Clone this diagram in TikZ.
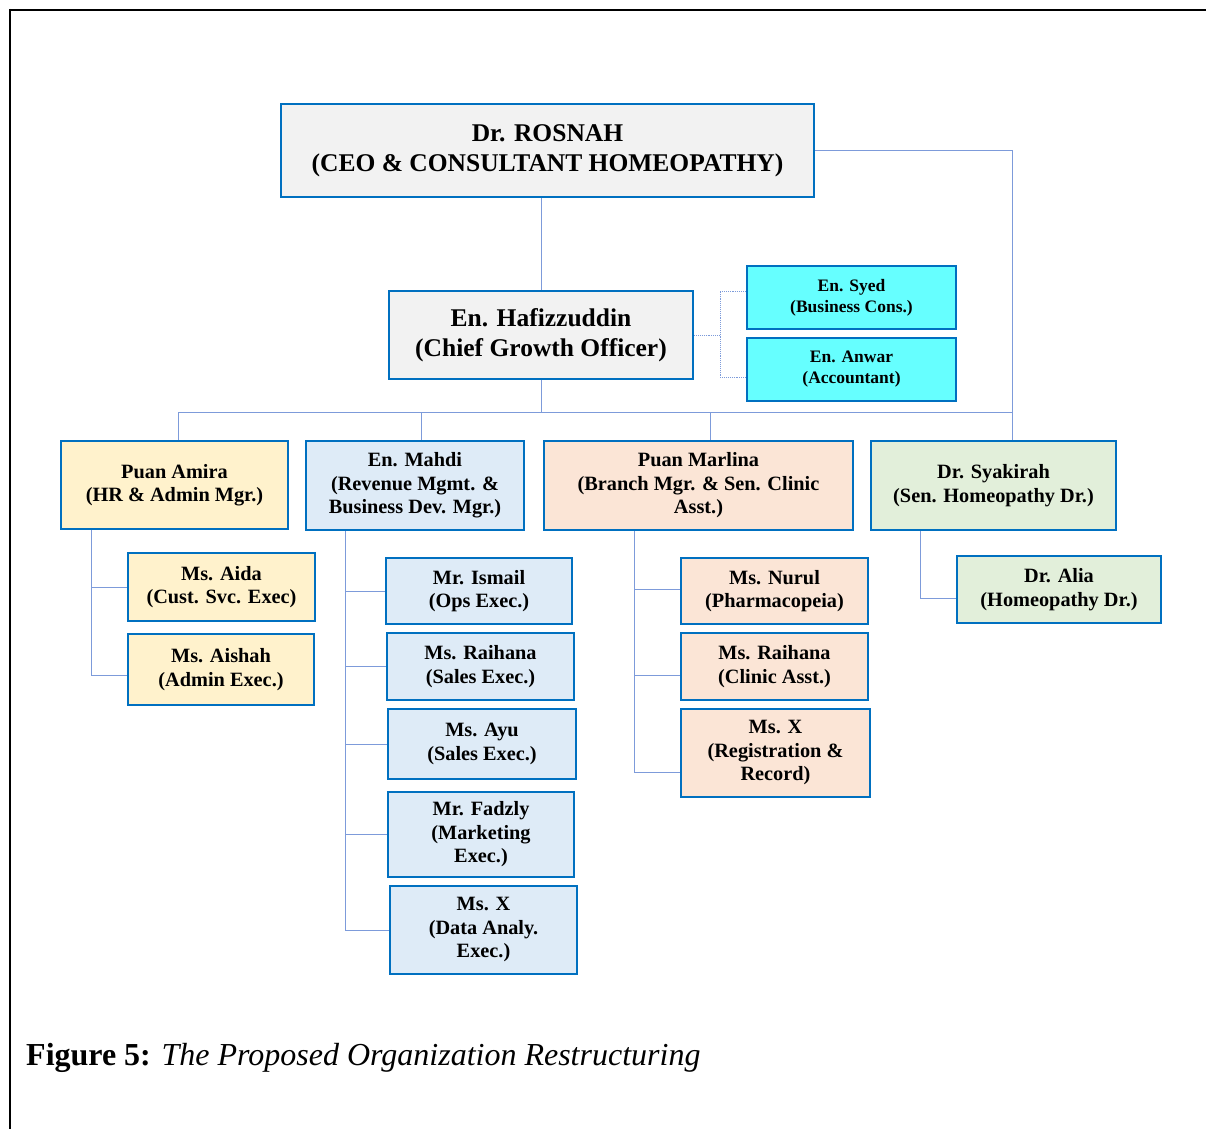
\documentclass[tikz,border=0pt]{standalone}
\usepackage{fontspec}
\setmainfont{Liberation Serif}
\begin{document}
\definecolor{edge}{RGB}{0,112,192}
\definecolor{wire}{RGB}{125,155,218}
\definecolor{greyfill}{RGB}{242,242,242}
\definecolor{cyanfill}{RGB}{102,255,255}
\definecolor{yellowfill}{RGB}{255,242,204}
\definecolor{bluefill}{RGB}{222,235,247}
\definecolor{peachfill}{RGB}{251,229,214}
\definecolor{greenfill}{RGB}{226,239,218}
\begin{tikzpicture}[x=1pt,y=-1pt,
  box/.style={draw=edge, line width=2.5pt, align=center, inner sep=2pt},
  bigtext/.style={font=\fontsize{25.5}{30}\selectfont\bfseries},
  midtext/.style={font=\fontsize{20.3}{23.5}\selectfont\bfseries},
  smalltext/.style={font=\fontsize{17.5}{21}\selectfont\bfseries},
  link/.style={draw=wire, line width=0.9pt},
  dotlink/.style={draw=wire, line width=0.9pt, densely dotted}]
\useasboundingbox (0,0) rectangle (1206,1129);

% page frame
\draw[line width=2pt] (9,10) -- (1206,10);
\draw[line width=1.6pt] (10,9) -- (10,1129);

% top levels
\node[box, bigtext, fill=greyfill, minimum width=533, minimum height=93] (ceo) at (547.5,150.5)
  {Dr. ROSNAH\\(CEO \& CONSULTANT HOMEOPATHY)};
\node[box, bigtext, fill=greyfill, minimum width=304, minimum height=88] (cgo) at (541,335)
  {En. Hafizzuddin\\(Chief Growth Officer)};
\node[box, smalltext, fill=cyanfill, minimum width=209, minimum height=63] (syed) at (851.5,297.5)
  {En. Syed\\(Business Cons.)};
\node[box, smalltext, fill=cyanfill, minimum width=209, minimum height=63] (anwar) at (851.5,369.5)
  {En. Anwar\\(Accountant)};

% managers
\node[box, midtext, fill=yellowfill, minimum width=227, minimum height=88] (amira) at (174.5,485)
  {Puan Amira\\(HR \& Admin Mgr.)};
\node[box, midtext, fill=bluefill, minimum width=218, minimum height=89] (mahdi) at (415,485.5)
  {En. Mahdi\\(Revenue Mgmt. \&\\Business Dev. Mgr.)};
\node[box, midtext, fill=peachfill, minimum width=309, minimum height=89] (marlina) at (698.5,485.5)
  {Puan Marlina\\(Branch Mgr. \& Sen. Clinic\\Asst.)};
\node[box, midtext, fill=greenfill, minimum width=245, minimum height=89] (syakirah) at (993.5,485.5)
  {Dr. Syakirah\\(Sen. Homeopathy Dr.)};

% staff under Puan Amira
\node[box, midtext, fill=yellowfill, minimum width=187, minimum height=68] (aida) at (221.5,587)
  {Ms. Aida\\(Cust. Svc. Exec)};
\node[box, midtext, fill=yellowfill, minimum width=186, minimum height=71] (aishah) at (221,669.5)
  {Ms. Aishah\\(Admin Exec.)};

% staff under En. Mahdi
\node[box, midtext, fill=bluefill, minimum width=186, minimum height=66] (ismail) at (479,591)
  {Mr. Ismail\\(Ops Exec.)};
\node[box, midtext, fill=bluefill, minimum width=187, minimum height=67] (raihanaS) at (480.5,666.5)
  {Ms. Raihana\\(Sales Exec.)};
\node[box, midtext, fill=bluefill, minimum width=188, minimum height=70] (ayu) at (482,744)
  {Ms. Ayu\\(Sales Exec.)};
\node[box, midtext, fill=bluefill, minimum width=186, minimum height=85] (fadzly) at (481,834.5)
  {Mr. Fadzly\\(Marketing\\Exec.)};
\node[box, midtext, fill=bluefill, minimum width=187, minimum height=88] (msxdata) at (483.5,930)
  {Ms. X\\(Data Analy.\\Exec.)};

% staff under Puan Marlina
\node[box, midtext, fill=peachfill, minimum width=187, minimum height=66] (nurul) at (774.5,591)
  {Ms. Nurul\\(Pharmacopeia)};
\node[box, midtext, fill=peachfill, minimum width=187, minimum height=67] (raihanaC) at (774.5,666.5)
  {Ms. Raihana\\(Clinic Asst.)};
\node[box, midtext, fill=peachfill, minimum width=189, minimum height=88] (msxreg) at (775.5,753)
  {Ms. X\\(Registration \&\\Record)};

% staff under Dr. Syakirah
\node[box, midtext, fill=greenfill, minimum width=204, minimum height=67] (alia) at (1059,589.5)
  {Dr. Alia\\(Homeopathy Dr.)};

% reporting lines from the top
\coordinate (dA) at (178,412);
\coordinate (dM) at (421,412);
\coordinate (dP) at (710,412);
\coordinate (dS) at (1012,412);
\draw[link] (cgo.north) -- (cgo.north |- ceo.south);
\draw[link] (ceo.east) -| (dS |- syakirah.north);
\draw[link] (cgo.south) -- (cgo.south |- dA);
\draw[link] (dA) -- (dS);
\draw[link] (dA) -- (dA |- amira.north);
\draw[link] (dM) -- (dM |- mahdi.north);
\draw[link] (dP) -- (dP |- marlina.north);

% advisory (dotted) lines
\coordinate (j1) at (720,291);
\coordinate (j2) at (720,377);
\draw[dotlink] (cgo.east) -- (cgo.east -| j1);
\draw[dotlink] (j1 -| syed.west) -- (j1) -- (j2) -- (j2 -| anwar.west);

% Puan Amira's team
\coordinate (ta) at (91,675);
\draw[link] (ta |- amira.south) -- (ta) -- (ta -| aishah.west);
\draw[link] (ta |- aida.west) -- (aida.west);

% En. Mahdi's team
\coordinate (tm) at (345,930);
\draw[link] (tm |- mahdi.south) -- (tm) -- (msxdata.west);
\foreach \n in {ismail,raihanaS,ayu,fadzly}
  \draw[link] (tm |- \n.west) -- (\n.west);

% Puan Marlina's team
\coordinate (tp) at (634,772);
\draw[link] (tp |- marlina.south) -- (tp) -- (tp -| msxreg.west);
\coordinate (tp1) at (634,589);
\coordinate (tp2) at (634,675);
\draw[link] (tp1) -- (tp1 -| nurul.west);
\draw[link] (tp2) -- (tp2 -| raihanaC.west);

% Dr. Syakirah's team
\coordinate (ts) at (920,598);
\draw[link] (ts |- syakirah.south) -- (ts) -- (ts -| alia.west);

% caption
\node[anchor=base west, inner sep=0pt, font=\fontsize{32}{36}\selectfont] (caption) at (26,1065)
  {\textbf{Figure 5:} \textit{The Proposed Organization Restructuring}};
\end{tikzpicture}
\end{document}
